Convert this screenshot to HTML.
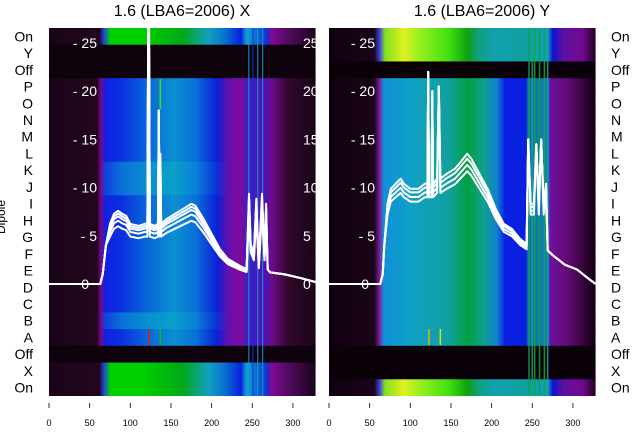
<!DOCTYPE html>
<html><head><meta charset="utf-8"><style>
html,body{margin:0;padding:0;background:#fff;}
svg{display:block;font-family:"Liberation Sans","DejaVu Sans",sans-serif;}
</style></head><body>
<svg id="s" width="640" height="440" xmlns="http://www.w3.org/2000/svg">
<defs>
<linearGradient id="lm" x1="0" x2="1" y1="0" y2="0">
<stop offset="0" stop-color="#1a0518"/><stop offset=".18" stop-color="#22061f"/><stop offset=".195" stop-color="#7a0a8a"/><stop offset=".21" stop-color="#1020e0"/><stop offset=".27" stop-color="#0a30e0"/><stop offset=".37" stop-color="#0868d8"/><stop offset=".47" stop-color="#0a90d0"/><stop offset=".55" stop-color="#0a70d8"/><stop offset=".63" stop-color="#0a20d8"/><stop offset=".67" stop-color="#6010b0"/><stop offset=".72" stop-color="#800a9a"/><stop offset=".74" stop-color="#4020c0"/><stop offset=".82" stop-color="#5010b0"/><stop offset=".83" stop-color="#700a90"/><stop offset=".9" stop-color="#300828"/><stop offset="1" stop-color="#1a0518"/>
</linearGradient>
<linearGradient id="lm2" x1="0" x2="1" y1="0" y2="0">
<stop offset="0" stop-color="#1a0518"/><stop offset=".18" stop-color="#22061f"/><stop offset=".195" stop-color="#7a0a8a"/><stop offset=".21" stop-color="#1040e0"/><stop offset=".27" stop-color="#0a70d8"/><stop offset=".37" stop-color="#0890d0"/><stop offset=".47" stop-color="#0aa0c8"/><stop offset=".55" stop-color="#0a80d8"/><stop offset=".63" stop-color="#0a30d8"/><stop offset=".67" stop-color="#6010b0"/><stop offset=".72" stop-color="#800a9a"/><stop offset=".74" stop-color="#4020c0"/><stop offset=".82" stop-color="#5010b0"/><stop offset=".83" stop-color="#700a90"/><stop offset=".9" stop-color="#300828"/><stop offset="1" stop-color="#1a0518"/>
</linearGradient>
<linearGradient id="lo" x1="0" x2="1" y1="0" y2="0">
<stop offset="0" stop-color="#1a0518"/><stop offset=".19" stop-color="#22061f"/><stop offset=".205" stop-color="#2040e0"/><stop offset=".23" stop-color="#00d000"/><stop offset=".35" stop-color="#00d000"/><stop offset=".5" stop-color="#00a818"/><stop offset=".6" stop-color="#10a0c0"/><stop offset=".66" stop-color="#0870d0"/><stop offset=".72" stop-color="#0a20e0"/><stop offset=".74" stop-color="#10a0d0"/><stop offset=".82" stop-color="#1030d0"/><stop offset=".83" stop-color="#800a9a"/><stop offset=".9" stop-color="#500a60"/><stop offset="1" stop-color="#1a0518"/>
</linearGradient>
<linearGradient id="rm" x1="0" x2="1" y1="0" y2="0">
<stop offset="0" stop-color="#100010"/><stop offset=".17" stop-color="#1a0518"/><stop offset=".19" stop-color="#8020a0"/><stop offset=".205" stop-color="#1090d8"/><stop offset=".3" stop-color="#10a0c8"/><stop offset=".45" stop-color="#10a0a0"/><stop offset=".52" stop-color="#00a040"/><stop offset=".58" stop-color="#10a090"/><stop offset=".63" stop-color="#1080d0"/><stop offset=".66" stop-color="#0a20e0"/><stop offset=".74" stop-color="#0a20e0"/><stop offset=".745" stop-color="#1070b0"/><stop offset=".82" stop-color="#1080c0"/><stop offset=".83" stop-color="#7010a0"/><stop offset=".9" stop-color="#600a70"/><stop offset="1" stop-color="#100010"/>
</linearGradient>
<linearGradient id="ro" x1="0" x2="1" y1="0" y2="0">
<stop offset="0" stop-color="#100010"/><stop offset=".17" stop-color="#1a0518"/><stop offset=".19" stop-color="#4040e0"/><stop offset=".21" stop-color="#80e020"/><stop offset=".28" stop-color="#e0f020"/><stop offset=".33" stop-color="#a0f020"/><stop offset=".45" stop-color="#40e010"/><stop offset=".52" stop-color="#10a010"/><stop offset=".56" stop-color="#10a080"/><stop offset=".62" stop-color="#10a0b0"/><stop offset=".74" stop-color="#10a0a0"/><stop offset=".82" stop-color="#10a0c0"/><stop offset=".84" stop-color="#1010d0"/><stop offset=".88" stop-color="#6010a0"/><stop offset=".95" stop-color="#700a90"/><stop offset="1" stop-color="#200020"/>
</linearGradient>
<clipPath id="cl"><rect x="49" y="28" width="266.7" height="368"/></clipPath>
<clipPath id="cr"><rect x="329" y="28" width="266.7" height="368"/></clipPath>
</defs>
<g id="L" clip-path="url(#cl)"></g>
<g id="R" clip-path="url(#cr)"></g>
<text x="182" y="16" font-size="16" text-anchor="middle">1.6 (LBA6=2006) X</text>
<text x="482" y="16" font-size="16" text-anchor="middle">1.6 (LBA6=2006) Y</text>
<text transform="translate(5,217) rotate(-90)" font-size="12" text-anchor="middle">Dipole</text>
<g id="T"></g>
</svg>
<script>
var NS="http://www.w3.org/2000/svg";
function el(p,t,a,txt){var e=document.createElementNS(NS,t);for(var k in a)e.setAttribute(k,a[k]);if(txt!=null)e.textContent=txt;p.appendChild(e);return e;}
var rows=["On","Y","Off","P","O","N","M","L","K","J","I","H","G","F","E","D","C","B","A","Off","X","On"];
var rh=368/22, W=266.7, sx=266.7/328;
var L=document.getElementById("L"),R=document.getElementById("R"),T=document.getElementById("T");
var lf=["lo","blk","blk"],rf=["ro","ro","blk"];
for(var i=0;i<22;i++){
  var y=28+i*rh, fl, fr;
  if(i<3){fl=lf[i];fr=rf[i];}
  else if(i>=19){fl=["blk","lo","lo"][i-19];fr=["blk","blk","ro"][i-19];}
  else {fl=(i==8||i==9||i==17)?"lm2":"lm";fr="rm";}
  el(L,"rect",{x:49,y:y,width:W,height:rh+0.5,fill:fl=="blk"?"#0e020c":"url(#"+fl+")"});
  el(R,"rect",{x:329,y:y,width:W,height:rh+0.5,fill:fr=="blk"?"#0a0208":"url(#"+fr+")"});
  el(T,"text",{x:33,y:y+rh/2+5,"font-size":14,"text-anchor":"end"},rows[i]);
  el(T,"text",{x:611,y:y+rh/2+5,"font-size":14},rows[i]);
}
[[245,"#10a0d0"],[250,"#1030e0"],[256,"#10a0d0"],[262,"#10a0d0"]].forEach(function(a){el(L,"rect",{x:49+a[0]*sx,y:28,width:1.2,height:368,fill:a[1],opacity:.8});});
[[245,"#10a040"],[249,"#10a0a0"],[252,"#10b020"],[258,"#10a040"],[264,"#10b020"],[268,"#10a0c0"]].forEach(function(a){el(R,"rect",{x:329+a[0]*sx,y:28,width:1.5,height:368,fill:a[1],opacity:.85});});
el(L,"rect",{x:49+122*sx,y:329,width:1.5,height:16,fill:"#e02000"});
el(L,"rect",{x:49+136*sx,y:329,width:1.5,height:16,fill:"#10c010"});
el(L,"rect",{x:49+136*sx,y:79,width:1.5,height:30,fill:"#40e010"});
el(R,"rect",{x:329+122*sx,y:329,width:1.5,height:16,fill:"#f0b000"});
el(R,"rect",{x:329+136*sx,y:329,width:1.5,height:16,fill:"#e0e000"});
function Y(v){return 284-v*9.64;}
var cl=[[0,0],[63,0],[66,1],[70,4],[75,6],[80,7],[85,7.3],[90,7],[95,6.8],[100,6],[110,5.8],[118,6],[121,6],[122,27],[123,27],[124,6],[130,5.8],[134,6],[135,18],[136,6],[137,13],[138,6],[145,6.5],[155,7],[165,7.5],[175,8],[180,7.8],[190,6.5],[200,5],[210,3.5],[220,2.5],[235,1.8],[243,1.5],[246,9],[248,4],[252,3],[255,8.5],[258,2],[262,9],[265,3],[267,8],[269,1.5],[272,1.2],[290,1],[310,0.6],[328,0.2]];
var cr=[[0,0],[63,0],[66,1],[68,4],[72,8],[76,9.5],[82,10],[88,10.5],[92,10],[100,9.5],[110,9.5],[118,10],[121,10],[122,22],[123,10],[126,10],[127,20],[128,10],[133,10.5],[135,20.5],[137,10.5],[145,11],[155,11.5],[165,12.5],[170,13],[175,12.5],[185,11],[195,9.5],[205,7.5],[215,6],[225,5.5],[235,4.5],[243,4],[245,15],[248,8],[252,8],[255,14.5],[258,8],[261,15],[264,8],[267,10],[269,3.5],[275,3],[290,2],[305,1.5],[320,0.5],[328,0]];
function draw(g,x0,pts,fs){fs.forEach(function(f){var s=pts.map(function(p){var v=p[1];if(p[0]>70&&p[0]<269&&v<14)v=v*f;return (x0+p[0]*sx).toFixed(1)+","+Y(v).toFixed(1);}).join(" ");el(g,"polyline",{points:s,fill:"none",stroke:"#fff","stroke-width":2,"stroke-linejoin":"round"});});}
draw(L,49,cl,[0.82,0.9,0.96,1.0,1.04]);
draw(R,329,cr,[0.9,0.95,1.0,1.04]);
for(var v=0;v<=25;v+=5){
  var t=(v==0?"0":"- "+v);
  el(L,"text",{x:v==0?89:97,y:Y(v)+5,"font-size":14,fill:"#fff","text-anchor":"end"},t);
  el(L,"text",{x:303,y:Y(v)+5,"font-size":14,fill:"#fff"},v==0?"0":""+v);
  el(R,"text",{x:v==0?369:375,y:Y(v)+5,"font-size":14,fill:"#fff","text-anchor":"end"},t);
}
[0,50,100,150,200,250,300].forEach(function(u){[49,329].forEach(function(x0){var x=x0+u*sx;el(T,"line",{x1:x,x2:x,y1:403,y2:408,stroke:"#000","stroke-width":0.8});el(T,"text",{x:x,y:426,"font-size":9,"text-anchor":"middle"},""+u);});});
</script>
</body></html>
